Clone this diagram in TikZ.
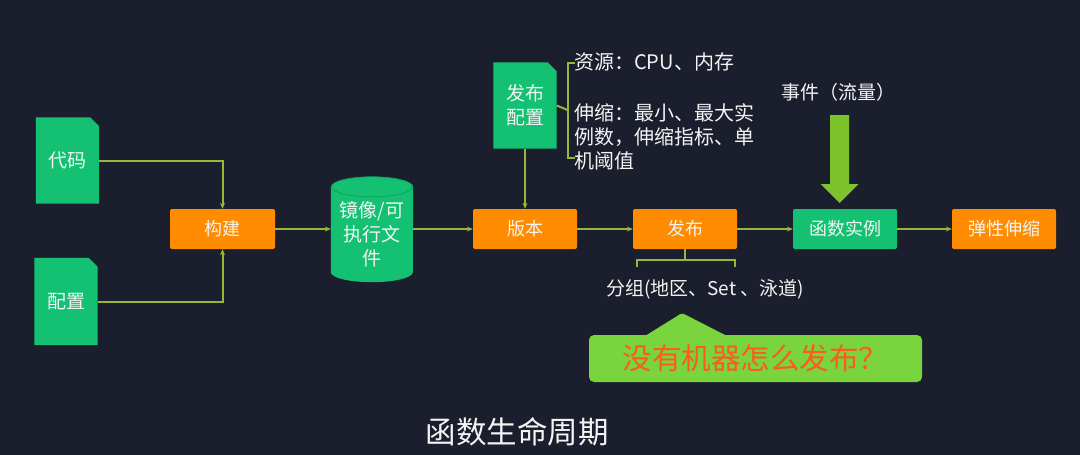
\documentclass[tikz,border=0pt]{standalone}
\usepackage{fontspec}
\setmainfont{Noto Sans CJK SC}
\usetikzlibrary{arrows.meta,backgrounds}
\definecolor{bg}{HTML}{1B1E2C}
\definecolor{boxgreen}{HTML}{14C173}
\definecolor{cyledge}{HTML}{0E9F5C}
\definecolor{boxorange}{HTML}{FF8C00}
\definecolor{linec}{HTML}{96B83A}
\definecolor{callgreen}{HTML}{7AD43E}
\definecolor{bigarrow}{HTML}{7CC22A}
\definecolor{calltext}{HTML}{FF5A1E}
\definecolor{txt}{HTML}{F4F4F4}
\newcommand{\mydocshape}[1]{%
  \fill[boxgreen] (#1.south west) -- (#1.north west) -- ([xshift=-9pt]#1.north east)
    -- ([yshift=-9pt]#1.north east) -- (#1.south east) -- cycle;}
\begin{document}
\begin{tikzpicture}[x=1pt,y=-1pt,
  proc/.style={fill=boxorange, rounded corners=2pt, minimum width=104pt, minimum height=40pt,
    text=txt, font=\fontsize{18}{20}\selectfont, inner sep=0pt},
  inst/.style={proc, fill=boxgreen},
  docbox/.style={minimum width=63pt, minimum height=86pt, inner sep=0pt, text=txt,
    font=\fontsize{19}{24}\selectfont, align=center},
  conn/.style={draw=linec, line width=2pt, -{Stealth[length=6pt,width=5pt]}},
  bracket/.style={draw=linec, line width=2pt},
  lbl/.style={text=txt, font=\fontsize{20}{24}\selectfont, inner sep=0pt, align=left}]

\begin{scope}[on background layer]
  \fill[bg] (0,0) rectangle (1080,455);
\end{scope}
\useasboundingbox (0,0) rectangle (1080,455);

% nodes
\node[docbox] (code) at (67.5,160.5) {代码};
\node[docbox, minimum height=87pt] (conf) at (66,301.5) {配置};
\node[proc, minimum width=105pt] (bld) at (222.5,229) {构建};
\node[docbox, minimum width=82pt, minimum height=95pt, font=\fontsize{19}{24}\selectfont] (img) at (372,234.5) {镜像/可\\执行文\\件};
\node[proc] (ver) at (525,229) {版本};
\node[docbox] (pubconf) at (525,105.5) {发布\\配置};
\node[proc] (pub) at (685,229) {发布};
\node[inst] (fi) at (845,229) {函数实例};
\node[proc] (el) at (1004,229) {弹性伸缩};

\begin{scope}[on background layer]
  \mydocshape{code}
  \mydocshape{conf}
  \mydocshape{pubconf}
  \fill[boxgreen] (img.north west) -- ([yshift=10pt]img.south west)
     arc[start angle=180,end angle=360,x radius=41pt,y radius=10pt]
     -- (img.north east)
     arc[start angle=0,end angle=180,x radius=41pt,y radius=10pt] -- cycle;
  \draw[cyledge, line width=0.8pt] (img.north) ellipse[x radius=40.6pt,y radius=10pt];
\end{scope}

% connectors
\draw[conn] (code.east) -| (bld.north);
\draw[conn] (conf.east) -| (bld.south);
\draw[conn] (bld.east) -- (bld.east -| img.west);
\draw[conn] (ver.west -| img.east) -- (ver.west);
\draw[conn] (pubconf.south) -- (ver.north);
\draw[conn] (ver.east) -- (pub.west);
\draw[conn] (pub.east) -- (fi.west);
\draw[conn] (fi.east) -- (el.west);

% bracket of the release configuration
\draw[bracket] (pubconf.east) -- (567.5,110);
\draw[bracket] (575,63) -- (567.5,63) -- (567.5,158) -- (575,158);
\node[lbl, anchor=west] (res) at (574,62) {资源：CPU、内存};
\node[lbl, anchor=west] (scale) at (574,137) {伸缩：最小、最大实\\例数，伸缩指标、单\\机阈值};

% bracket under release
\draw[bracket] (pub.south) -- (685,259.5);
\draw[bracket] (637,267) -- (637,259.5) -- (735,259.5) -- (735,267);
\node[lbl, font=\fontsize{19}{22}\selectfont] (grp) at (705,289) {分组(地区、Set 、泳道)};

% event arrow
\node[lbl, font=\fontsize{19}{22}\selectfont] (evt) at (838,92) {事件（流量）};
\fill[bigarrow] (830,115) -- (849,115) -- (849,184) -- (858.5,184) -- (839.5,203)
   -- (820.5,184) -- (830,184) -- cycle;

% callout
\node[fill=callgreen, rounded corners=5pt, minimum width=333pt, minimum height=47pt,
  inner sep=0pt, text=calltext, font=\fontsize{29.5}{31}\selectfont] (q) at (755.5,358.5) {没有机器怎么发布？};
\fill[callgreen, rounded corners=2pt] (645,336) -- (682,313) -- (727,336) -- cycle;

% title
\node[lbl, font=\fontsize{30.5}{33}\selectfont] (title) at (517,432) {函数生命周期};
\end{tikzpicture}
\end{document}
